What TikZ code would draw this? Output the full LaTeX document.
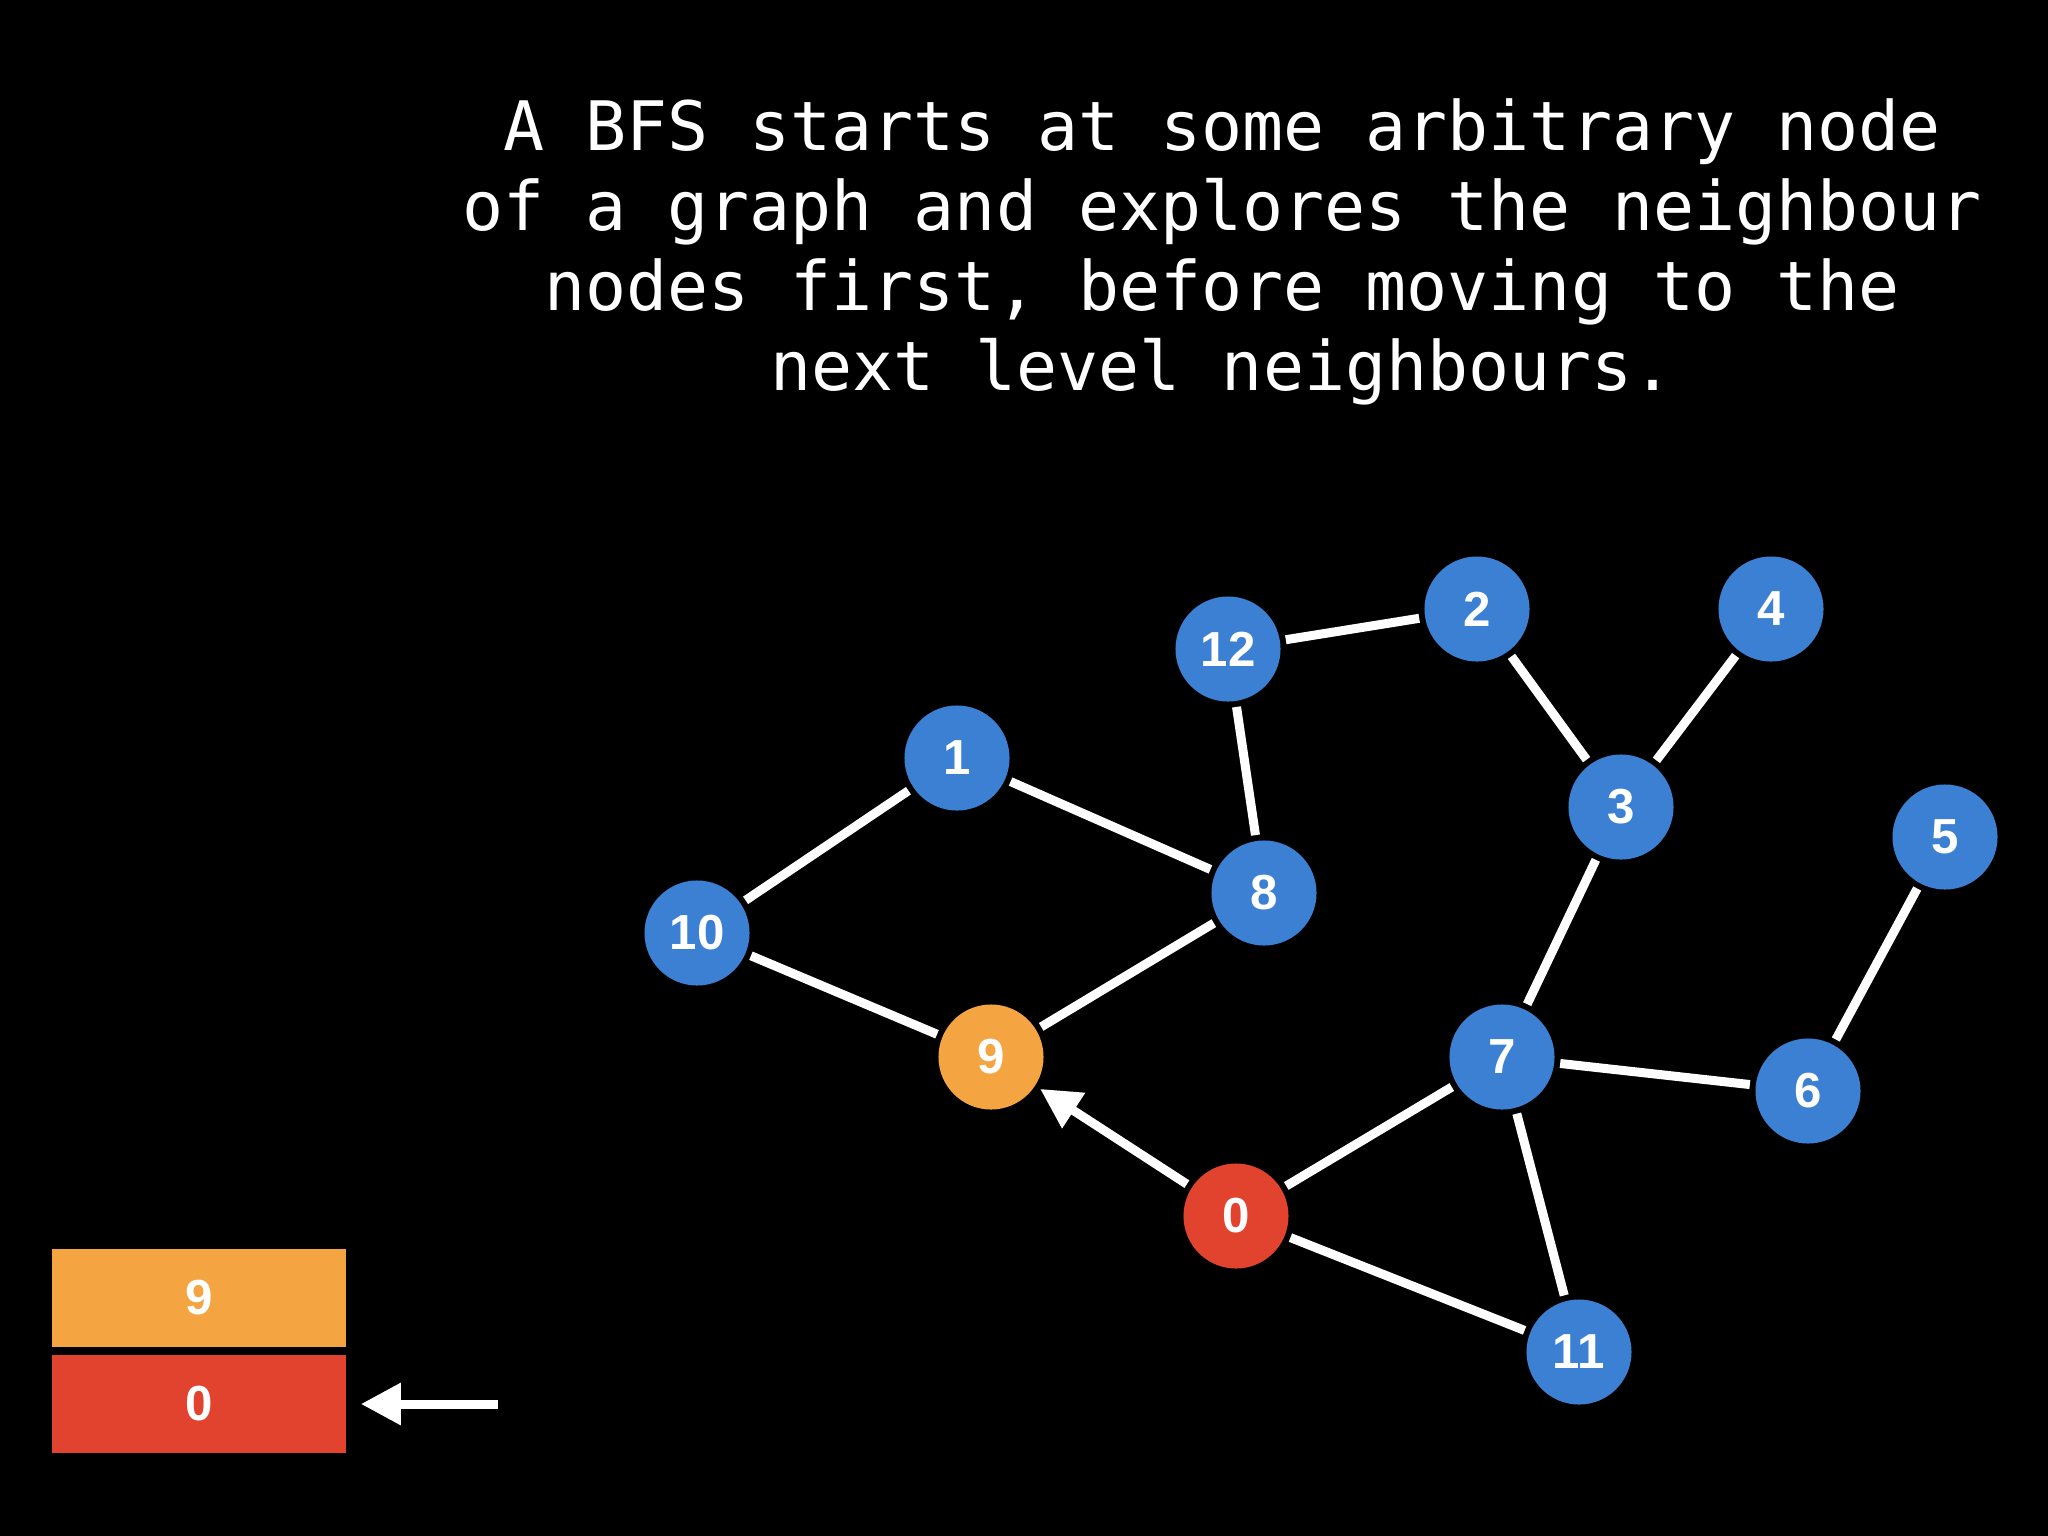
\documentclass[tikz,border=0pt]{standalone}
\usepackage{fontspec}
\usepackage{xcolor}
\usepackage{tikz}
\usetikzlibrary{arrows.meta,positioning}
\newfontfamily\captionfont{DejaVu Sans Mono}
\newfontfamily\labelfont{Liberation Sans}
\definecolor{NodeBlue}{HTML}{3B80D2}
\definecolor{Visit}{HTML}{F5A442}
\definecolor{Start}{HTML}{E2432F}

\begin{document}
\begin{tikzpicture}[x=0.01cm,y=-0.01cm,>={Triangle[length=0.4cm,width=0.4cm]},
  vertex/.style={circle,minimum size=1.05cm,inner sep=0pt,outer sep=0.06cm,
    text=white,font=\labelfont\bfseries\fontsize{14}{16}\selectfont},
  edge/.style={white,line width=0.09cm},
  slot/.style={rectangle,minimum width=2.94cm,minimum height=0.98cm,inner sep=0pt,
    text=white,font=\labelfont\bfseries\fontsize{14}{16}\selectfont}]
  \fill[black] (0,0) rectangle (2048,1536);
  \useasboundingbox (0,0) rectangle (2048,1536);
  \node[white,align=center,inner sep=0pt,font=\captionfont\fontsize{19.4}{22.7}\selectfont]
    (caption) at (1222,252) {A BFS starts at some arbitrary node\\of a graph and explores the neighbour\\nodes first, before moving to the\\next level neighbours.};
  % graph
  \foreach \n/\x/\y in {12/1228/649, 2/1477/609, 4/1771/609, 1/957/758, 3/1621/807,
    5/1945/837, 10/697/933, 8/1264/893, 7/1502/1057, 6/1808/1091, 11/1579/1352}
  {
    \node[vertex,fill=NodeBlue] (v\n) at (\x,\y) {\n};
  }
  \node[vertex,fill=Visit] (v9) at (991,1057) {9};
  \node[vertex,fill=Start] (v0) at (1236,1216) {0};
  \foreach \a/\b in {12/2, 12/8, 2/3, 4/3, 1/10, 1/8, 10/9, 9/8, 3/7,
    7/0, 7/6, 7/11, 5/6, 0/11}
  {
    \draw[edge] (v\a) -- (v\b);
  }
  \draw[edge,->] (v0) -- (v9);
  % queue
  \node[slot,fill=Visit] (q9) at (199,1298) {9};
  \node[slot,fill=Start] (q0) at (199,1404) {0};
  \coordinate (qin) at (498,1404);
  \draw[edge,->,shorten >=0.14cm] (qin) -- (q0.east);
\end{tikzpicture}
\end{document}
